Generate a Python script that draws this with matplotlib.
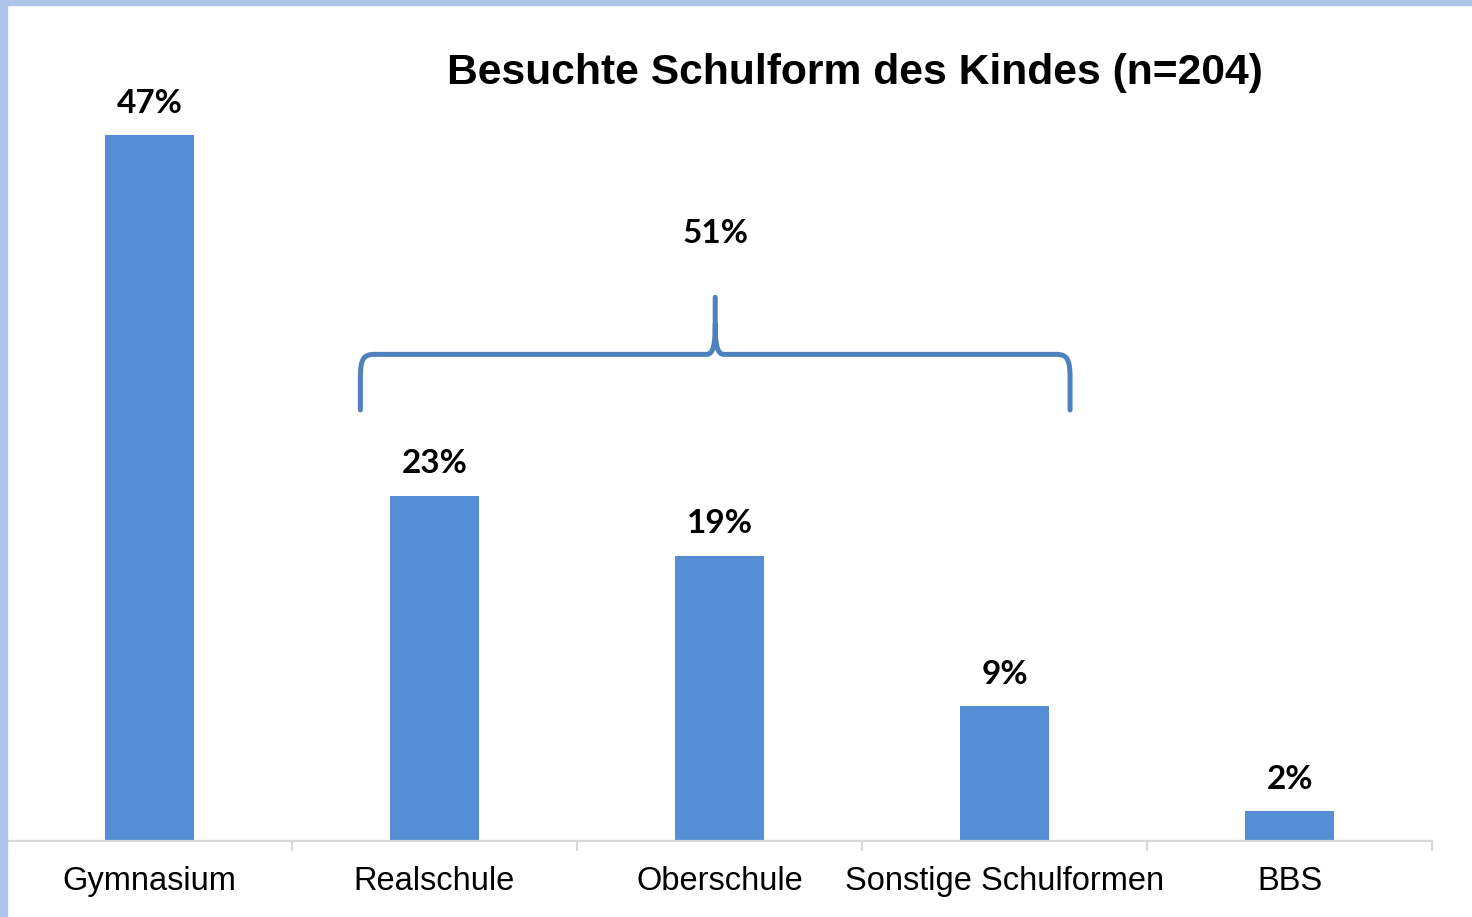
import matplotlib
matplotlib.use("Agg")
import matplotlib.pyplot as plt
from matplotlib.path import Path
from matplotlib.patches import PathPatch, Rectangle

# data
categories = ["Gymnasium", "Realschule", "Oberschule", "Sonstige Schulformen", "BBS"]
shares = [47, 23, 19, 9, 2]
group = [1, 2, 3]  # bars covered by the brace
title = "Besuchte Schulform des Kindes (n=204)"

bar_color = "#558ed5"
brace_color = "#4f81bd"
grid_gray = "#d9d9d9"

W, H = 1472, 917
fig = plt.figure(figsize=(W / 100, H / 100), dpi=100)
ax = fig.add_axes([7 / W, (H - 841) / H, (1432 - 7) / W, (841 - 5) / H])

x = list(range(len(categories)))
ax.bar(x, shares, width=0.31, color=bar_color, zorder=2)
ax.set_xlim(-0.5, len(categories) - 0.5)
ax.set_ylim(0, 55.66)

for xi, v in zip(x, shares):
    ax.annotate(f"{v}%", (xi, v), xytext=(0, 16), textcoords="offset points",
                ha="center", va="baseline", fontsize=24, fontweight="bold",
                family="Lato")

# axis styling
for s in ["left", "right", "top"]:
    ax.spines[s].set_visible(False)
ax.spines["bottom"].set_color(grid_gray)
ax.spines["bottom"].set_linewidth(1.6)
ax.set_yticks([])
ax.set_xticks([i - 0.5 for i in range(len(categories) + 1)])
ax.set_xticklabels([])
ax.tick_params(axis="x", which="major", length=7, width=1.5, color=grid_gray)
ax.set_xticks(x, minor=True)
ax.set_xticklabels(categories, minor=True, fontsize=23.5, family="Liberation Sans")
ax.tick_params(axis="x", which="minor", length=0, pad=18)

# brace over the middle group
x0 = group[0] - 0.26
x1 = group[-1] + 0.23
xc = (x0 + x1) / 2
ym, ytip, yb = 32.4, 36.2, 28.7
verts = [
    (x0, yb), (x0, ym - 1.6),
    (x0, ym - 0.3), (x0 + 0.01, ym), (x0 + 0.05, ym),
    (xc - 0.03, ym),
    (xc - 0.005, ym), (xc, ym + 0.8), (xc, ym + 2.0),
    (xc, ytip),
    (xc, ym + 2.0),
    (xc, ym + 0.8), (xc + 0.005, ym), (xc + 0.03, ym),
    (x1 - 0.05, ym),
    (x1 - 0.01, ym), (x1, ym - 0.3), (x1, ym - 1.6),
    (x1, yb),
]
codes = [Path.MOVETO, Path.LINETO,
         Path.CURVE4, Path.CURVE4, Path.CURVE4,
         Path.LINETO,
         Path.CURVE4, Path.CURVE4, Path.CURVE4,
         Path.LINETO,
         Path.MOVETO,
         Path.CURVE4, Path.CURVE4, Path.CURVE4,
         Path.LINETO,
         Path.CURVE4, Path.CURVE4, Path.CURVE4,
         Path.LINETO]
ax.add_patch(PathPatch(Path(verts, codes), fill=False, edgecolor=brace_color,
                       linewidth=3.6, capstyle="round", joinstyle="round", zorder=3))
ax.annotate(f"{sum(shares[i] for i in group)}%", (xc, ytip), xytext=(0, 39),
            textcoords="offset points", ha="center", va="baseline",
            fontsize=24, fontweight="bold", family="Lato")

fig.text(855 / W, 1 - 84 / H, title, ha="center", va="baseline",
         fontsize=30.7, fontweight="bold", family="Liberation Sans")

# light blue frame on the left and top
fig.patches.append(Rectangle((0, 0), 7 / W, 1, transform=fig.transFigure,
                             color="#adc5e7", zorder=0))
fig.patches.append(Rectangle((0, 1 - 5 / H), 1, 5 / H, transform=fig.transFigure,
                             color="#adc5e7", zorder=0))

fig.savefig("out.png", dpi=100)
